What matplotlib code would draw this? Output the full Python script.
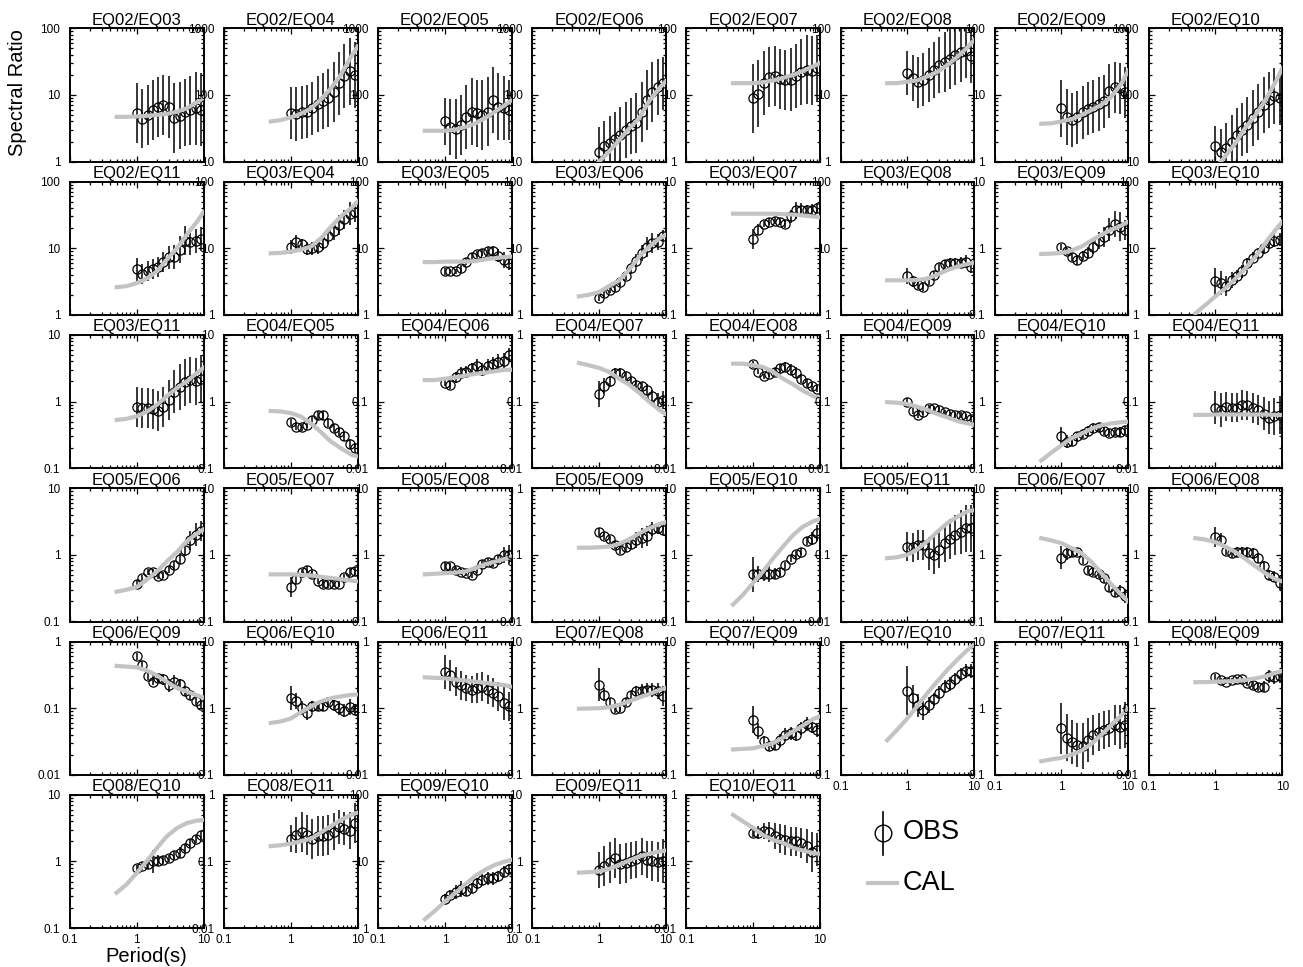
import matplotlib
matplotlib.use('Agg')
import matplotlib.pyplot as plt
import numpy as np
from matplotlib.ticker import FixedLocator, LogLocator, NullFormatter

plt.rcParams['font.family'] = ['Liberation Sans', 'DejaVu Sans']

# periods of the observed ratios (s) and of the calculated curves (s)
periods = [1.0, 1.2, 1.45, 1.74, 2.09, 2.51, 3.02, 3.63, 4.37, 5.25, 6.31, 7.59, 9.12]
cal_periods = [0.5, 0.7, 1.0, 1.4, 2.0, 2.8, 4.0, 5.6, 8.0, 10.0]

titles = ['EQ02/EQ03', 'EQ02/EQ04', 'EQ02/EQ05', 'EQ02/EQ06', 'EQ02/EQ07', 'EQ02/EQ08', 'EQ02/EQ09', 'EQ02/EQ10',
          'EQ02/EQ11', 'EQ03/EQ04', 'EQ03/EQ05', 'EQ03/EQ06', 'EQ03/EQ07', 'EQ03/EQ08', 'EQ03/EQ09', 'EQ03/EQ10',
          'EQ03/EQ11', 'EQ04/EQ05', 'EQ04/EQ06', 'EQ04/EQ07', 'EQ04/EQ08', 'EQ04/EQ09', 'EQ04/EQ10', 'EQ04/EQ11',
          'EQ05/EQ06', 'EQ05/EQ07', 'EQ05/EQ08', 'EQ05/EQ09', 'EQ05/EQ10', 'EQ05/EQ11', 'EQ06/EQ07', 'EQ06/EQ08',
          'EQ06/EQ09', 'EQ06/EQ10', 'EQ06/EQ11', 'EQ07/EQ08', 'EQ07/EQ09', 'EQ07/EQ10', 'EQ07/EQ11', 'EQ08/EQ09',
          'EQ08/EQ10', 'EQ08/EQ11', 'EQ09/EQ10', 'EQ09/EQ11', 'EQ10/EQ11']

# lowest decade (log10) of each panel's y range; every panel spans two decades
y_low = [0, 1, 1, 1, 0, 0, 0, 1,
         0, 0, 0, 0, -1, 0, -1, 0,
         -1, -1, -2, -2, -2, -2, -1, -2,
         -1, -1, -1, -2, -1, -2, -1, -1,
         -2, -1, -2, -1, -1, -1, -1, -2,
         -1, -2, 0, -1, -2]

obs_ratio = [
    [5.3, 4.4, 5.0, 6.0, 6.6, 7.0, 6.6, 4.5, 4.9, 5.5, 5.9, 6.3, 6.0],
    [53, 52, 55, 56, 63, 72, 80, 90, 110, 150, 190, 225, 200],
    [40, 33, 31, 35, 47, 56, 53, 50, 56, 84, 67, 63, 60],
    [14, 17, 19, 22, 25, 30, 34, 38, 55, 85, 110, 130, 150],
    [8.9, 10.5, 15, 18.5, 19, 17.5, 17, 17, 19, 22, 24, 23, 25],
    [21, 18, 15.5, 17, 20, 24, 28, 31, 35, 40, 44, 45, 38],
    [6.3, 4.7, 4.2, 4.6, 5.5, 6.2, 6.7, 7.3, 8.0, 11.5, 13, 12.5, 11],
    [17, 14, 16, 20, 25, 30, 36, 45, 55, 70, 85, 95, 90],
    [4.8, 4.1, 4.5, 4.9, 5.3, 6.3, 7.3, 7.5, 9.5, 13, 12.5, 13, 14],
    [10.5, 12.5, 11.5, 9.8, 10, 10.5, 12, 15.5, 18, 22, 27, 33, 35],
    [4.5, 4.5, 4.5, 5.0, 6.3, 7.5, 8.2, 8.6, 9.0, 9.0, 7.7, 6.7, 6.0],
    [1.8, 2.1, 2.4, 2.6, 3.1, 3.9, 5.0, 6.5, 8.4, 10.5, 12, 12.5, 15.5],
    [1.4, 1.9, 2.3, 2.5, 2.6, 2.5, 2.3, 3.0, 3.7, 3.8, 3.7, 3.8, 4.0],
    [3.8, 3.2, 2.8, 2.6, 3.2, 4.0, 5.3, 5.8, 6.1, 6.1, 6.1, 6.3, 5.3],
    [1.04, 0.9, 0.75, 0.67, 0.77, 0.86, 1.05, 1.3, 1.5, 1.9, 2.3, 2.1, 1.9],
    [3.2, 3.0, 2.7, 3.3, 3.8, 4.5, 6.0, 7.2, 8.5, 10, 11.8, 13, 13.5],
    [0.82, 0.8, 0.8, 0.78, 0.73, 0.84, 1.05, 1.4, 1.65, 1.95, 2.1, 2.0, 2.2],
    [0.49, 0.42, 0.41, 0.45, 0.53, 0.62, 0.62, 0.47, 0.4, 0.35, 0.3, 0.23, 0.2],
    [0.19, 0.18, 0.23, 0.27, 0.28, 0.32, 0.34, 0.3, 0.34, 0.37, 0.39, 0.4, 0.5],
    [0.13, 0.17, 0.2, 0.27, 0.27, 0.24, 0.2, 0.18, 0.17, 0.15, 0.12, 0.1, 0.105],
    [0.36, 0.28, 0.24, 0.26, 0.28, 0.32, 0.33, 0.3, 0.27, 0.22, 0.19, 0.17, 0.155],
    [0.1, 0.072, 0.063, 0.07, 0.08, 0.079, 0.075, 0.069, 0.064, 0.063, 0.063, 0.06, 0.055],
    [0.3, 0.25, 0.26, 0.3, 0.33, 0.36, 0.4, 0.41, 0.36, 0.34, 0.35, 0.35, 0.37],
    [0.081, 0.075, 0.084, 0.081, 0.081, 0.089, 0.088, 0.08, 0.075, 0.066, 0.057, 0.06, 0.063],
    [0.37, 0.45, 0.55, 0.55, 0.48, 0.5, 0.6, 0.7, 0.88, 1.2, 1.65, 2.0, 2.3],
    [0.33, 0.44, 0.55, 0.6, 0.51, 0.41, 0.36, 0.36, 0.37, 0.37, 0.46, 0.55, 0.57],
    [0.69, 0.67, 0.6, 0.55, 0.53, 0.5, 0.6, 0.74, 0.79, 0.75, 0.88, 1.0, 1.0],
    [0.22, 0.19, 0.17, 0.14, 0.12, 0.13, 0.145, 0.165, 0.18, 0.19, 0.245, 0.25, 0.24],
    [0.51, 0.51, 0.51, 0.51, 0.52, 0.56, 0.7, 0.88, 1.02, 1.12, 1.6, 1.75, 2.1],
    [0.133, 0.13, 0.14, 0.14, 0.105, 0.1, 0.12, 0.15, 0.175, 0.2, 0.22, 0.25, 0.25],
    [0.91, 1.05, 1.1, 1.1, 0.85, 0.6, 0.56, 0.51, 0.45, 0.33, 0.28, 0.29, 0.24],
    [1.88, 1.68, 1.15, 1.05, 1.1, 1.1, 1.1, 1.05, 0.9, 0.67, 0.5, 0.47, 0.38],
    [0.6, 0.45, 0.3, 0.25, 0.28, 0.27, 0.22, 0.25, 0.23, 0.18, 0.155, 0.13, 0.11],
    [1.4, 1.26, 1.0, 0.85, 1.06, 1.06, 1.06, 1.25, 1.1, 1.0, 0.92, 1.05, 0.95],
    [0.35, 0.31, 0.25, 0.22, 0.2, 0.19, 0.2, 0.21, 0.19, 0.17, 0.15, 0.12, 0.106],
    [2.25, 1.6, 1.23, 0.98, 1.0, 1.22, 1.55, 1.78, 1.82, 1.88, 1.88, 1.83, 1.5],
    [0.67, 0.45, 0.32, 0.27, 0.28, 0.33, 0.4, 0.42, 0.4, 0.5, 0.58, 0.53, 0.47],
    [1.83, 1.4, 1.1, 0.95, 1.1, 1.35, 1.7, 2.1, 2.3, 2.7, 3.2, 3.6, 3.6],
    [0.5, 0.36, 0.31, 0.28, 0.27, 0.33, 0.4, 0.44, 0.47, 0.5, 0.56, 0.53, 0.56],
    [0.29, 0.26, 0.25, 0.26, 0.27, 0.27, 0.24, 0.22, 0.21, 0.21, 0.3, 0.29, 0.3],
    [0.8, 0.85, 0.93, 1.0, 1.03, 1.06, 1.12, 1.25, 1.35, 1.6, 1.9, 2.2, 2.5],
    [0.22, 0.25, 0.28, 0.25, 0.22, 0.24, 0.24, 0.25, 0.28, 0.33, 0.31, 0.29, 0.38],
    [2.7, 3.1, 3.5, 3.8, 3.6, 4.0, 4.7, 5.3, 5.6, 5.6, 6.0, 7.0, 7.7],
    [0.75, 0.86, 0.97, 1.12, 0.92, 0.94, 1.03, 1.08, 1.2, 1.06, 1.03, 0.97, 1.0],
    [0.27, 0.27, 0.29, 0.28, 0.24, 0.22, 0.21, 0.2, 0.2, 0.19, 0.17, 0.14, 0.15],
]

# error half-width in log10 units
obs_err = [
    [0.45, 0.44, 0.45, 0.45, 0.45, 0.45, 0.47, 0.52, 0.5, 0.5, 0.52, 0.55, 0.55],
    [0.39, 0.4, 0.4, 0.4, 0.4, 0.42, 0.42, 0.44, 0.45, 0.47, 0.48, 0.5, 0.5],
    [0.35, 0.42, 0.45, 0.45, 0.48, 0.5, 0.5, 0.52, 0.52, 0.5, 0.5, 0.48, 0.45],
    [0.38, 0.38, 0.4, 0.4, 0.42, 0.42, 0.42, 0.45, 0.45, 0.45, 0.45, 0.42, 0.4],
    [0.52, 0.5, 0.48, 0.45, 0.45, 0.45, 0.45, 0.47, 0.48, 0.5, 0.52, 0.52, 0.5],
    [0.33, 0.35, 0.38, 0.4, 0.4, 0.42, 0.42, 0.45, 0.45, 0.45, 0.45, 0.4, 0.4],
    [0.43, 0.42, 0.4, 0.4, 0.4, 0.4, 0.4, 0.4, 0.4, 0.4, 0.38, 0.38, 0.38],
    [0.3, 0.35, 0.38, 0.4, 0.4, 0.4, 0.42, 0.42, 0.42, 0.42, 0.42, 0.42, 0.4],
    [0.17, 0.15, 0.15, 0.15, 0.15, 0.15, 0.17, 0.18, 0.2, 0.22, 0.2, 0.18, 0.18],
    [0.1, 0.1, 0.08, 0.1, 0.1, 0.1, 0.1, 0.12, 0.13, 0.15, 0.15, 0.17, 0.15],
    [0.05, 0.04, 0.04, 0.05, 0.05, 0.05, 0.05, 0.05, 0.06, 0.08, 0.1, 0.12, 0.1],
    [0.05, 0.05, 0.05, 0.05, 0.06, 0.07, 0.08, 0.1, 0.12, 0.15, 0.15, 0.12, 0.08],
    [0.15, 0.08, 0.05, 0.05, 0.05, 0.05, 0.06, 0.1, 0.13, 0.1, 0.08, 0.08, 0.08],
    [0.12, 0.08, 0.06, 0.06, 0.06, 0.06, 0.06, 0.06, 0.07, 0.07, 0.08, 0.1, 0.1],
    [0.05, 0.05, 0.06, 0.07, 0.07, 0.08, 0.1, 0.13, 0.15, 0.17, 0.2, 0.22, 0.15],
    [0.2, 0.18, 0.15, 0.12, 0.1, 0.1, 0.08, 0.08, 0.08, 0.08, 0.08, 0.1, 0.1],
    [0.3, 0.3, 0.3, 0.3, 0.3, 0.3, 0.3, 0.32, 0.35, 0.35, 0.35, 0.35, 0.35],
    [0.05, 0.05, 0.05, 0.05, 0.06, 0.07, 0.07, 0.06, 0.06, 0.06, 0.07, 0.08, 0.08],
    [0.05, 0.06, 0.08, 0.08, 0.08, 0.08, 0.1, 0.1, 0.1, 0.1, 0.12, 0.12, 0.1],
    [0.2, 0.12, 0.08, 0.07, 0.07, 0.07, 0.07, 0.07, 0.07, 0.08, 0.1, 0.13, 0.13],
    [0.05, 0.04, 0.04, 0.04, 0.05, 0.06, 0.07, 0.08, 0.08, 0.07, 0.06, 0.05, 0.05],
    [0.05, 0.04, 0.04, 0.04, 0.04, 0.04, 0.04, 0.04, 0.04, 0.04, 0.04, 0.04, 0.04],
    [0.14, 0.1, 0.08, 0.07, 0.07, 0.07, 0.07, 0.07, 0.06, 0.06, 0.06, 0.07, 0.07],
    [0.25, 0.25, 0.22, 0.22, 0.22, 0.22, 0.22, 0.22, 0.22, 0.25, 0.25, 0.28, 0.28],
    [0.06, 0.05, 0.05, 0.05, 0.05, 0.05, 0.05, 0.06, 0.08, 0.1, 0.14, 0.17, 0.15],
    [0.15, 0.08, 0.05, 0.05, 0.05, 0.05, 0.05, 0.05, 0.05, 0.05, 0.05, 0.06, 0.06],
    [0.06, 0.05, 0.04, 0.04, 0.04, 0.04, 0.05, 0.05, 0.05, 0.05, 0.06, 0.12, 0.15],
    [0.06, 0.05, 0.05, 0.06, 0.06, 0.07, 0.08, 0.12, 0.15, 0.15, 0.1, 0.08, 0.08],
    [0.26, 0.12, 0.1, 0.12, 0.08, 0.06, 0.05, 0.05, 0.05, 0.05, 0.06, 0.1, 0.12],
    [0.22, 0.22, 0.22, 0.22, 0.25, 0.28, 0.28, 0.28, 0.3, 0.3, 0.33, 0.35, 0.35],
    [0.17, 0.1, 0.07, 0.06, 0.06, 0.06, 0.06, 0.06, 0.07, 0.07, 0.08, 0.08, 0.1],
    [0.15, 0.1, 0.07, 0.07, 0.07, 0.08, 0.08, 0.08, 0.08, 0.08, 0.08, 0.08, 0.1],
    [0.05, 0.05, 0.05, 0.05, 0.06, 0.08, 0.1, 0.1, 0.08, 0.08, 0.07, 0.07, 0.06],
    [0.18, 0.12, 0.1, 0.1, 0.08, 0.07, 0.07, 0.07, 0.08, 0.1, 0.1, 0.12, 0.08],
    [0.25, 0.23, 0.22, 0.22, 0.2, 0.2, 0.22, 0.22, 0.22, 0.22, 0.22, 0.25, 0.22],
    [0.25, 0.1, 0.06, 0.06, 0.06, 0.06, 0.07, 0.08, 0.1, 0.1, 0.1, 0.12, 0.15],
    [0.2, 0.12, 0.08, 0.08, 0.08, 0.1, 0.1, 0.1, 0.1, 0.1, 0.1, 0.1, 0.1],
    [0.37, 0.2, 0.17, 0.15, 0.12, 0.1, 0.1, 0.1, 0.1, 0.1, 0.1, 0.1, 0.1],
    [0.38, 0.35, 0.33, 0.33, 0.35, 0.33, 0.3, 0.28, 0.28, 0.28, 0.3, 0.33, 0.35],
    [0.05, 0.04, 0.04, 0.04, 0.04, 0.04, 0.05, 0.06, 0.06, 0.08, 0.1, 0.1, 0.1],
    [0.05, 0.06, 0.08, 0.17, 0.08, 0.06, 0.05, 0.06, 0.08, 0.06, 0.06, 0.06, 0.06],
    [0.2, 0.27, 0.3, 0.3, 0.3, 0.3, 0.3, 0.3, 0.28, 0.25, 0.25, 0.28, 0.3],
    [0.08, 0.08, 0.1, 0.12, 0.08, 0.08, 0.08, 0.08, 0.1, 0.1, 0.08, 0.08, 0.08],
    [0.27, 0.3, 0.31, 0.3, 0.3, 0.3, 0.28, 0.28, 0.28, 0.28, 0.3, 0.3, 0.33],
    [0.07, 0.1, 0.12, 0.15, 0.2, 0.22, 0.22, 0.22, 0.22, 0.22, 0.25, 0.3, 0.25],
]

cal_ratio = [
    [4.7, 4.7, 4.75, 4.85, 5.0, 5.2, 5.6, 6.3, 7.8, 9.0],
    [40, 42, 46, 52, 63, 85, 126, 200, 376, 530],
    [29, 29, 29, 30, 33, 37, 45, 56, 71, 84],
    [5, 7, 10, 14, 21, 31, 45, 80, 126, 160],
    [15, 15, 15, 15.5, 16.5, 18, 20, 23, 27, 30],
    [15, 15, 15.8, 16.5, 19, 22, 28, 37, 52, 66],
    [3.7, 3.75, 4.0, 4.3, 5.0, 5.9, 7.1, 9.4, 15, 23],
    [5, 6, 8, 12, 19, 32, 50, 84, 158, 250],
    [2.6, 2.7, 3.0, 3.5, 4.5, 6.7, 10, 16, 25, 35],
    [8.4, 8.5, 8.9, 9.5, 10.6, 14, 21, 30, 40, 50],
    [6.2, 6.2, 6.3, 6.3, 6.3, 6.4, 6.8, 7.1, 7.4, 7.5],
    [1.9, 2.0, 2.2, 2.7, 3.3, 4.7, 7.5, 10.5, 14, 15.8],
    [3.3, 3.3, 3.3, 3.3, 3.3, 3.25, 3.2, 3.1, 3.0, 2.9],
    [3.3, 3.3, 3.3, 3.35, 3.5, 4.0, 4.7, 5.3, 5.8, 6.1],
    [0.82, 0.83, 0.85, 0.92, 1.06, 1.3, 1.6, 1.9, 2.2, 2.5],
    [1.05, 1.4, 1.9, 2.5, 3.5, 5.0, 7.5, 12, 19, 25],
    [0.53, 0.55, 0.6, 0.7, 0.89, 1.2, 1.6, 2.0, 2.7, 3.2],
    [0.72, 0.71, 0.67, 0.6, 0.47, 0.35, 0.25, 0.2, 0.16, 0.15],
    [0.21, 0.21, 0.22, 0.23, 0.245, 0.26, 0.27, 0.285, 0.3, 0.3],
    [0.38, 0.35, 0.32, 0.28, 0.22, 0.18, 0.135, 0.1, 0.075, 0.065],
    [0.37, 0.37, 0.35, 0.33, 0.28, 0.22, 0.18, 0.145, 0.12, 0.115],
    [0.098, 0.096, 0.092, 0.084, 0.075, 0.065, 0.058, 0.051, 0.047, 0.045],
    [0.13, 0.17, 0.22, 0.28, 0.33, 0.39, 0.44, 0.47, 0.49, 0.5],
    [0.063, 0.063, 0.064, 0.064, 0.064, 0.064, 0.064, 0.064, 0.063, 0.063],
    [0.28, 0.3, 0.33, 0.42, 0.56, 0.79, 1.1, 1.6, 2.1, 2.4],
    [0.51, 0.51, 0.51, 0.5, 0.49, 0.47, 0.45, 0.43, 0.41, 0.4],
    [0.51, 0.52, 0.53, 0.54, 0.56, 0.63, 0.72, 0.79, 0.87, 0.94],
    [0.128, 0.128, 0.13, 0.133, 0.146, 0.17, 0.21, 0.25, 0.29, 0.31],
    [0.18, 0.25, 0.38, 0.56, 0.89, 1.33, 2.0, 2.66, 3.2, 3.45],
    [0.089, 0.092, 0.1, 0.12, 0.16, 0.22, 0.3, 0.37, 0.45, 0.47],
    [1.78, 1.65, 1.5, 1.28, 1.06, 0.79, 0.53, 0.36, 0.25, 0.2],
    [1.78, 1.7, 1.55, 1.33, 1.1, 0.87, 0.67, 0.53, 0.43, 0.4],
    [0.43, 0.42, 0.41, 0.37, 0.31, 0.25, 0.2, 0.178, 0.155, 0.145],
    [0.6, 0.63, 0.7, 0.86, 1.06, 1.26, 1.41, 1.5, 1.58, 1.6],
    [0.29, 0.285, 0.28, 0.27, 0.26, 0.25, 0.24, 0.23, 0.22, 0.21],
    [0.98, 0.99, 1.0, 1.03, 1.12, 1.26, 1.45, 1.62, 1.88, 2.0],
    [0.24, 0.245, 0.25, 0.27, 0.3, 0.36, 0.45, 0.55, 0.69, 0.75],
    [0.33, 0.47, 0.7, 1.06, 1.68, 2.5, 3.76, 5.3, 7.5, 8.9],
    [0.16, 0.17, 0.18, 0.2, 0.23, 0.29, 0.4, 0.56, 0.79, 0.98],
    [0.245, 0.246, 0.25, 0.252, 0.255, 0.265, 0.28, 0.3, 0.34, 0.36],
    [0.34, 0.45, 0.67, 1.0, 1.58, 2.37, 3.16, 3.76, 4.1, 4.2],
    [0.17, 0.175, 0.185, 0.2, 0.22, 0.27, 0.34, 0.42, 0.5, 0.54],
    [1.36, 1.8, 2.5, 3.3, 4.5, 6.0, 7.5, 8.9, 10, 10.6],
    [0.68, 0.69, 0.71, 0.77, 0.89, 1.03, 1.19, 1.3, 1.41, 1.46],
    [0.5, 0.4, 0.32, 0.25, 0.21, 0.19, 0.16, 0.146, 0.133, 0.13],
]

x_ticks = [0.1, 1, 10]
x_ticklabels = ['0.1', '1', '10']

W, H = 1303, 967
fig = plt.figure(figsize=(W / 100, H / 100), dpi=100)

ncol = 8
col_left0, col_step, pw = 70, 154.1, 133.5
row_top0, row_step, ph = 28.3, 153.3, 133.3
cal_color = '#c3c3c3'


def fmt_num(v):
    return ('%g' % v)


T = np.array(periods)
for i, title in enumerate(titles):
    r, c = divmod(i, ncol)
    left = col_left0 + c * col_step
    top = row_top0 + r * row_step
    ax = fig.add_axes([left / W, 1 - (top + ph) / H, pw / W, ph / H])
    ax.set_xscale('log')
    ax.set_yscale('log')

    y = np.array(obs_ratio[i])
    e = np.array(obs_err[i])
    ax.errorbar(T, y, yerr=[y - y / 10 ** e, y * 10 ** e - y], fmt='o', ms=6.6,
                mfc='none', mec='k', mew=0.9, ecolor='k', elinewidth=1.1,
                capsize=0, zorder=2)
    ax.plot(cal_periods, cal_ratio[i], color=cal_color, lw=3.0,
            solid_joinstyle='round', zorder=3)

    lo = y_low[i]
    ax.set_xlim(0.1, 10)
    ax.set_ylim(10.0 ** lo, 10.0 ** (lo + 2))
    yt = [10.0 ** lo, 10.0 ** (lo + 1), 10.0 ** (lo + 2)]
    ax.yaxis.set_major_locator(FixedLocator(yt))
    ax.set_yticklabels([fmt_num(v) for v in yt])
    ax.yaxis.set_minor_locator(LogLocator(base=10, subs=np.arange(2, 10)))
    ax.yaxis.set_minor_formatter(NullFormatter())
    ax.xaxis.set_major_locator(FixedLocator(x_ticks))
    ax.xaxis.set_minor_locator(LogLocator(base=10, subs=np.arange(2, 10)))
    ax.xaxis.set_minor_formatter(NullFormatter())

    bottom_panel = (i + ncol >= len(titles))
    if bottom_panel:
        ax.set_xticklabels(x_ticklabels)
    ax.tick_params(which='both', direction='in', top=True, right=True,
                   labelbottom=bottom_panel, labelsize=8.5, width=0.9)
    ax.tick_params(which='major', length=4)
    ax.tick_params(which='minor', length=2.2)
    ax.tick_params(axis='y', pad=7)
    ax.tick_params(axis='x', pad=4.5)
    for s in ax.spines.values():
        s.set_linewidth(1.4)
    ax.set_title(title, fontsize=12, pad=2.5)

fig.text(17.5 / W, 1 - 92.5 / H, 'Spectral Ratio', rotation=90,
         ha='center', va='center', fontsize=14.5)
fig.text(146 / W, 1 - 956 / H, 'Period(s)', ha='center', va='center',
         fontsize=14.5)

# legend drawn on a pixel-coordinate overlay
leg = fig.add_axes([0, 0, 1, 1], zorder=5)
leg.set_xlim(0, W)
leg.set_ylim(H, 0)
leg.axis('off')
leg.plot([883, 883], [812, 855], color='k', lw=1.2)
leg.plot([883], [833], 'o', ms=12, mfc='none', mec='k', mew=1.0)
leg.text(903, 832, 'OBS', fontsize=19.5, va='center', ha='left')
leg.plot([868, 897], [883, 883], color=cal_color, lw=3.0)
leg.text(903, 883, 'CAL', fontsize=19.5, va='center', ha='left')

fig.savefig('out.png', dpi=100)
